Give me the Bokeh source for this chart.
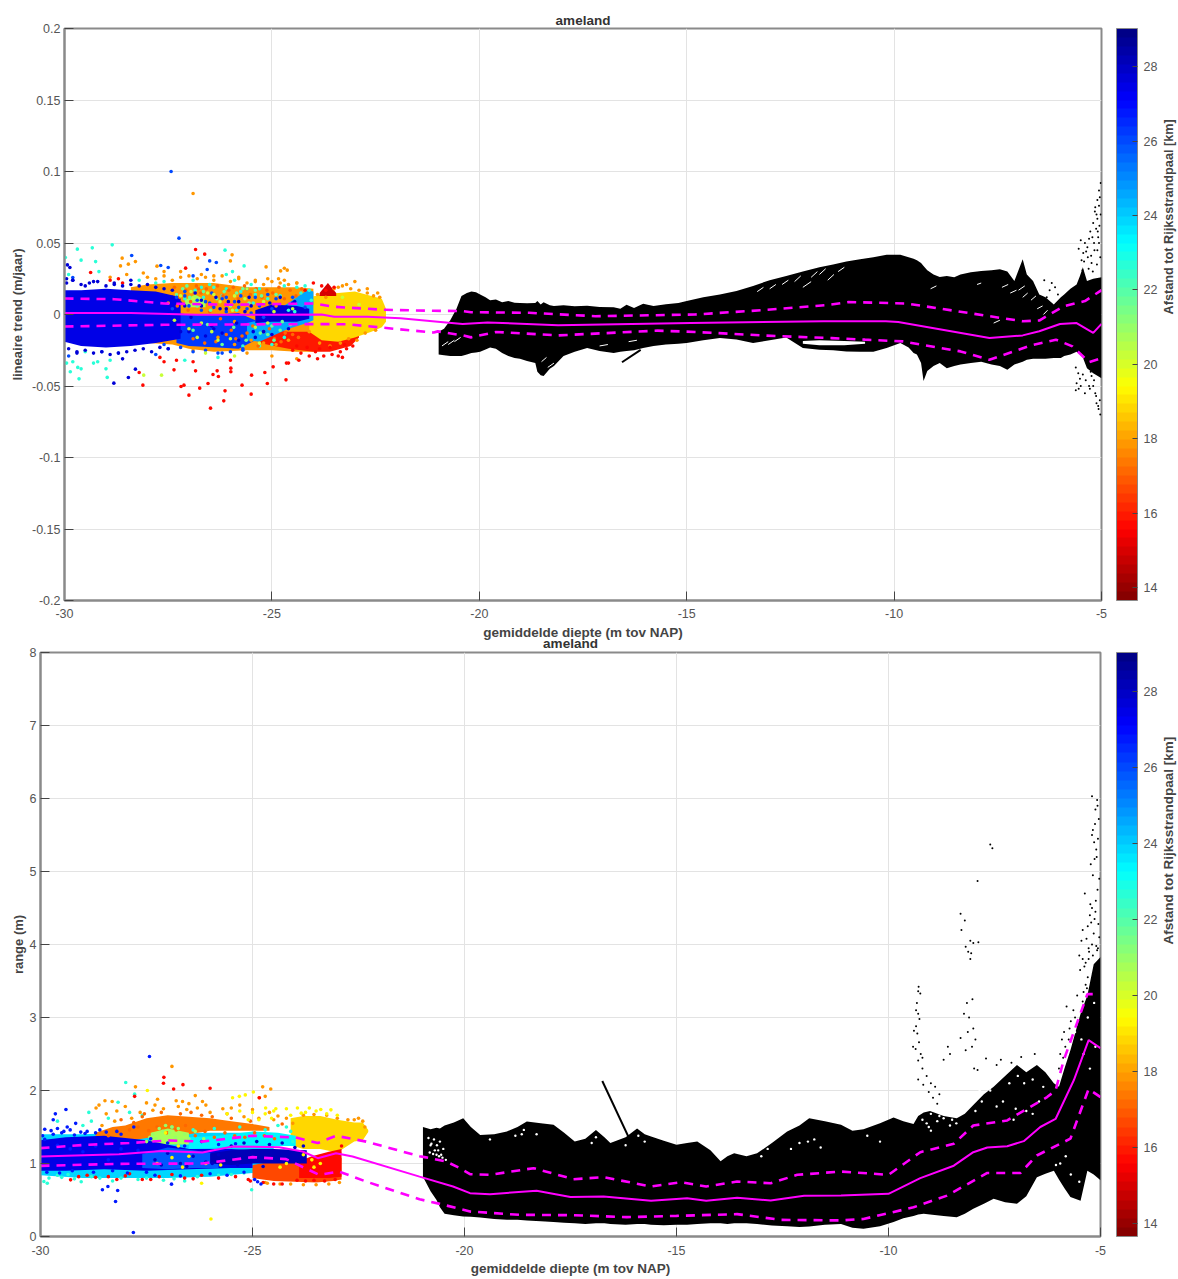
from math import pi
from bokeh.embed import file_html
from bokeh.resources import INLINE
from bokeh.plotting import figure
from bokeh.layouts import column
from bokeh.models import (ColorBar, FixedTicker, LinearAxis, LinearColorMapper, Range1d)

TITLE = "ameland"
XLABEL = "gemiddelde diepte (m tov NAP)"
CBLABEL = "Afstand tot Rijksstrandpaal [km]"
X_TICKS = [-30, -25, -20, -15, -10, -5]
TREND_TICKS = [-0.2, -0.15, -0.1, -0.05, 0, 0.05, 0.1, 0.15, 0.2]
RANGE_TICKS = [0, 1, 2, 3, 4, 5, 6, 7, 8]
KM_TICKS = [14, 16, 18, 20, 22, 24, 26, 28]
KM_LOW, KM_HIGH = 13.65, 29.03

# ---------- top panel: magenta statistics ----------
t_mean_x = [-30, -28.4, -26.8, -25.2, -23.8, -23.5, -22.7, -21.9, -21, -20.4, -19.8, -18.1, -14.9, -11.7, -10.2, -9.9, -7.7, -6.9, -6.5, -6, -5.6, -5.2, -5]
t_mean_y = [.001, .001, -.0002, -.0002, 0, -.0015, -.0015, -.0026, -.005, -.0066, -.0056, -.0075, -.006, -.0047, -.0047, -.0052, -.0164, -.0146, -.0117, -.0066, -.006, -.0129, -.0066]
t_up_x = [-30, -28.8, -27.6, -26, -24, -23.5, -22.3, -21.1, -20.4, -20.2, -18.8, -17.2, -14.8, -13.2, -11.6, -11.1, -9.7, -7.7, -6.9, -6.5, -5.9, -5.4, -5]
t_up_y = [.0112, .0107, .0077, .0068, .0077, .0054, .0033, .0026, .0024, .0016, .0012, -.0012, 0, .003, .0066, .0087, .0077, -.0012, -.0047, -.0042, .0059, .0094, .017]
t_lo_x = [-30, -27.6, -24, -23.2, -21.1, -21, -20.4, -20.2, -19.6, -18.1, -15.7, -14.8, -13.2, -12, -11.5, -10.7, -9.8, -8.4, -7.7, -6.7, -6.1, -5.7, -5.3, -5]
t_lo_y = [-.0084, -.0072, -.0067, -.0068, -.0126, -.0118, -.0146, -.016, -.0122, -.0146, -.0113, -.0122, -.0146, -.016, -.0165, -.0176, -.0188, -.0258, -.0317, -.0216, -.0176, -.0223, -.0333, -.0305]

# ---------- top panel: black cloud envelope and details ----------
t_blk_x = [-20.98, -20.85, -20.7, -20.55, -20.43, -20.3, -20.19, -20.08, -19.98, -19.85, -19.74, -19.6, -19.45, -19.3, -19.15, -19.02, -18.85, -18.65, -18.6, -18.52, -18.45, -18.3, -18.2, -17.97, -17.7, -17.4, -17.1, -16.76, -16.6, -16.45, -16.27, -16.05, -15.8, -15.5, -15.2, -15, -14.6, -14.2, -13.8, -13.4, -13, -12.6, -12.2, -11.8, -11.47, -11.15, -10.82, -10.5, -10.18, -9.85, -9.65, -9.53, -9.45, -9.35, -9.29, -9.2, -9.05, -8.9, -8.73, -8.55, -8.4, -8.15, -7.9, -7.65, -7.45, -7.27, -7.1, -6.9, -6.8, -6.65, -6.5, -6.35, -6.15, -5.98, -5.9, -5.75, -5.6, -5.52, -5.45, -5.35, -5.2, -5]
t_blk_hi = [-.012, -.01, -.004, .004, .013, .015, .016, .0155, .014, .012, .010, .0105, .0085, .0095, .0082, .008, .0078, .008, .0095, .007, .0085, .0065, .006, .0065, .0058, .0062, .0052, .005, .004, .0068, .0046, .0075, .006, .0072, .008, .0094, .012, .014, .0165, .020, .024, .027, .030, .033, .035, .037, .0387, .040, .0418, .0418, .040, .039, .038, .036, .034, .031, .028, .0263, .027, .026, .028, .0295, .0305, .031, .0317, .03, .0235, .0387, .028, .0235, .014, .012, .007, .012, .014, .018, .021, .027, .033, .0235, .025, .026]
t_blk_lo = [-.028, -.0285, -.029, -.029, -.029, -.028, -.027, -.0265, -.026, -.0245, -.023, -.024, -.027, -.029, -.0305, -.031, -.0325, -.034, -.040, -.0425, -.043, -.038, -.036, -.029, -.026, -.0235, -.0255, -.027, -.026, -.0255, -.025, -.0235, -.022, -.021, -.0205, -.020, -.018, -.0165, -.0175, -.020, -.018, -.016, -.0235, -.0247, -.025, -.0258, -.026, -.026, -.0235, -.02, -.023, -.027, -.028, -.034, -.0465, -.0395, -.036, -.034, -.0375, -.036, -.035, -.034, -.033, -.035, -.036, -.0387, -.035, -.033, -.0317, -.031, -.031, -.031, -.0305, -.0305, -.029, -.028, -.026, -.028, -.03, -.0375, -.041, -.0446]
t_tail_x = [-16.56, -16.11]
t_tail_y = [-.0334, -.0247]
t_gap_x = [-12.2, -11.8, -11.2, -10.7]
t_gap_hi = [-.0185, -.018, -.0185, -.019]
t_gap_lo = [-.0205, -.0215, -.0215, -.0205]
t_dots_x = [-5.06, -5.02, -5.1, -5.15, -5.12, -5.2, -5.27, -5.05, -5.3, -5.34, -5.4, -5.1, -5.18, -5.25, -5.44, -5.5, -5.55, -5.48, -5.42, -5.33, -5.22, -5.08, -5.62, -5.56, -5.52, -5.38, -5.28, -5.15, -5.04, -5.08, -5.13, -5.2, -5.03, -5.07, -5.12, -5.18, -5.24, -5.6, -5.55, -5.5, -5.45, -5.62, -5.3, -5.4, -5.26, -6.25, -6.2, -6.12, -6.05, -6.32, -6.38, -5.16, -5.1, -5.06, -5.02, -5.06, -5.13, -5.04, -5.09, -5.17, -5.24, -5.31, -5.37, -5.46, -5.03, -5.11, -5.21]
t_dots_y = [.0868, .092, .08, .075, .07, .064, .058, .062, .053, .047, .05, .045, .05, .041, .043, .052, .046, .038, .037, .04, .054, .054, -.037, -.041, -.045, -.046, -.052, -.055, -.06, -.064, -.057, -.05, -.07, -.066, -.062, -.046, -.043, -.048, -.052, -.05, -.042, -.053, -.05, -.055, -.04, .017, .022, .019, .014, .012, .024, .072, .067, .076, .07, .05, .06, .082, .058, .045, .036, .032, .044, .031, .04, .035, .03]
# white hatch inside the top panel's black cloud
t_wh_x0 = [-13.3, -13.0, -12.7, -12.4, -12.2, -12.0, -11.8, -11.6, -11.35, -9.12, -7.4, -7.2, -7.0, -6.9, -6.55, -6.7, -6.4, -7.6, -8.0, -20.9, -20.75, -20.6, -18.5, -18.35, -17.1, -16.4]
t_wh_y0 = [.016, .018, .021, .023, .019, .026, .028, .024, .03, .018, .019, .015, .017, .012, .004, .01, .0, -.006, .021, -.022, -.021, -.019, -.033, -.037, -.022, -.019]
t_wh_x1 = [-13.15, -12.85, -12.55, -12.25, -12.0, -11.85, -11.65, -11.45, -11.2, -8.98, -7.25, -7.05, -6.85, -6.78, -6.42, -6.58, -6.3, -7.45, -7.9, -20.75, -20.6, -20.45, -18.38, -18.2, -16.9, -16.2]
t_wh_y1 = [.019, .021, .024, .027, .023, .03, .032, .028, .033, .02, .021, .017, .02, .015, .006, .013, .003, -.004, .022, -.019, -.018, -.016, -.03, -.034, -.021, -.018]

# ---------- top panel: coloured cloud, broad areas ----------
t_or_x = [-28.4, -28, -27.4, -27, -26.4, -25.6, -25, -24.4, -24]
t_or_lo = [-.018, -.02, -.021, -.024, -.026, -.025, -.025, -.026, -.026]
t_or_hi = [.019, .021, .022, .022, .022, .019, .019, .019, .018]
t_rd_x = [-25.3, -24.6, -24, -23.6, -23.1, -22.9]
t_rd_lo = [-.02, -.024, -.026, -.026, -.022, -.016]
t_rd_hi = [-.01, -.012, -.012, -.012, -.012, -.012]
t_ye_x = [-24.1, -23.8, -23.4, -23, -22.6, -22.35, -22.25]
t_ye_lo = [-.012, -.018, -.019, -.016, -.012, -.009, -.005]
t_ye_hi = [.012, .014, .015, .016, .013, .011, .004]
t_gr_x = [-27.1, -26.85, -26.6]
t_gr_lo = [.005, .005, .005]
t_gr_hi = [.01, .014, .01]
t_cy_x = [-25.6, -25.3, -24.6, -24.15, -24.0]
t_cy_lo = [-.018, -.019, -.01, -.006, -.004]
t_cy_hi = [-.006, -.004, .008, .017, .016]
t_bl_x = [-27.3, -27, -26.3, -25.8, -25.4]
t_bl_lo = [-.02, -.022, -.023, -.024, -.018]
t_bl_hi = [.001, 0, .0, .001, -.004]
t_dk_x = [-30, -29.6, -29, -28.4, -27.8, -27.2]
t_dk_lo = [-.019, -.022, -.023, -.022, -.02, -.017]
t_dk_hi = [.017, .017, .018, .017, .016, .012]
t_dc_x = [-25.4, -25, -24.4, -24.1]
t_dc_lo = [-.006, -.005, -.005, -.003]
t_dc_hi = [.003, .007, .006, .004]
t_rr_x = [-23.85, -23.65, -23.45]
t_rr_lo = [.013, .013, .013]
t_rr_hi = [.015, .022, .015]

# ---------- top panel: single coloured points, by distance ----------
t_p26_x = [-27.43, -27.24, -26.5, -26.34, -28.38, -27.5, -26.56, -27.68, -26.9, -26.2, -25.7, -25.1, -24.9, -25.4, -26.6, -27.1, -27.8, -28.7, -29.1, -29.9, -29.8, -24.5, -24.2, -25.6, -26.1, -27.5, -27.2, -26.9, -26.6, -26.3, -26, -25.7, -27.4, -27, -26.7, -26.4, -26.1, -25.8, -25.5, -25.2, -27.6, -27.3, -26.8, -26.5, -26.2, -25.9, -25.6, -25.3, -25, -27.1, -26.45, -25.75]
t_p26_y = [.100, .0534, .0375, .0364, .0413, .0329, .0315, .0343, .027, -.027, -.025, .014, .011, .012, .009, .013, -.028, -.027, -.026, -.029, .0258, .012, .005, .018, .012, -.024, -.023, -.026, -.025, -.027, -.026, -.024, .004, .006, .003, .005, .002, .005, .001, -.002, -.021, .012, .01, .008, .011, .009, .004, .006, .004, .016, .015, .013]
t_p18_x = [-26.9, -26.79, -25.96, -26.0, -28.61, -28.29, -28.65, -28.46, -27.77, -24.7, -24.63, -24.79, -25.14, -24.84, -28.9, -28.5, -28.1, -27.6, -27.2, -26.7, -26.4, -25.8, -25.4, -25.1, -24.7, -24.4, -25.9, -26.3, -27.5, -25.0, -24.4, -25.6, -26.9, -22.7, -22.45, -23.2, -23.4, -23.0, -28, -27.8, -27.6, -27.4, -27.2, -27, -26.8, -26.6, -26.4, -26.2, -26, -25.8, -25.6, -25.4, -25.2, -25, -24.8, -24.6, -24.4, -27.3, -27.1, -26.7, -26.3, -25.9, -25.5, -25.1, -24.7, -26.5, -26.1, -25.7, -25.3, -24.9, -25.5, -25.2, -24.9, -24.6, -25.9, -26.3, -23.9, -23.7, -23.5, -23.3, -23.1, -22.9, -22.7, -22.55, -22.4, -24.1, -23.85, -23.6, -23.35, -23.15, -22.95, -22.75, -22.5]
t_p18_y = [.0846, .0394, .0417, .0375, .0394, .037, .034, .0352, .0338, .0324, .031, .0305, .0333, .025, .026, .028, .029, .03, .03, .028, .027, .026, .023, .025, .024, .022, -.005, .014, .008, -.029, -.031, -.027, -.025, .018, .015, .021, .019, .023, .026, .025, .027, .024, .026, .027, .025, .026, .024, .027, .023, .025, .022, .024, .021, .023, .022, .021, .022, .016, .018, .014, .017, .015, .016, .014, .015, .01, .008, .009, .007, .006, -.018, -.02, -.021, -.018, -.021, -.016, .014, .012, .018, .02, .018, .017, .015, .013, .012, -.012, -.02, -.022, -.02, -.017, -.018, -.013, -.011]
t_p16_x = [-26.84, -26.62, -27.08, -26.48, -26.16, -26.13, -27.0, -26.74, -27.12, -27.19, -26.54, -25.72, -25.5, -25.11, -24.66, -28.11, -28.2, -27.36, -26.84, -26.32, -25.99, -25.99, -26.29, -26.42, -25.49, -25.17, -24.65, -24.35, -24.97, -29.37, -28.9, -28.7, -28.6, -24.0, -24.2, -23.8, -23.4, -23.3, -23.9, -27.6, -27.3, -27.7, -26.9, -26.0, -24.6, -24.5, -24.3, -24.1, -23.95, -23.75, -23.55, -23.35, -23.2, -23.05, -24.4, -24.15, -23.85, -23.6, -23.25, -23.7, -23.5]
t_p16_y = [.0455, .0422, .0324, -.0655, -.0604, -.0534, -.0564, -.0515, -.0494, -.0503, -.0483, -.0494, -.0557, -.0483, -.0457, -.0494, -.0406, -.0387, -.0394, -.0394, -.0375, -.04, -.0434, -.042, -.0424, -.0406, -.034, -.032, -.0366, .0294, .024, .025, .022, .022, .017, .02, -.029, -.03, -.031, -.033, -.032, -.03, -.033, -.032, -.034, -.025, -.027, -.029, -.026, -.029, -.028, -.026, -.024, -.022, -.022, -.023, -.024, -.023, -.021, .017, .019]
t_p22_x = [-28.85, -29.33, -29.69, -29.98, -26.13, -29.6, -29.25, -29.17, -25.67, -25.95, -26.1, -29.65, -29.86, -28.97, -29.8, -29.68, -29.6, -29.3, -29.2, -29.0, -28.9, -29.5, -26.5, -26.7, -26.9, -27.6, -28.2, -27.8, -25.3, -24.7, -24.4, -24.2, -25.9, -25.5, -26.3, -27.1, -29.95, -29.9, -26.85, -26.4, -26.1, -25.75, -25.4, -27.1, -26.65, -26.2, -25.85, -25.45, -25.1, -24.8, -24.3, -24.1, -24.05, -24.6, -24.45, -25.7, -25.3, -25.0, -24.7]
t_p22_y = [.0487, .0466, .0457, .0399, .045, .038, .037, .03, .034, .03, .028, -.045, -.04, -.044, -.033, -.037, -.038, -.034, -.033, -.038, -.032, -.026, .021, .019, .024, .023, .024, .022, .018, .02, .019, .02, .024, .021, -.03, -.032, -.034, .028, .017, .019, .018, .016, .014, .011, .012, .013, .003, .008, .011, .013, .015, .017, .01, .003, .002, -.022, -.022, -.021, -.016]
t_p28_x = [-28.81, -28.46, -28.29, -29.93, -29.87, -29.95, -29.8, -29.7, -28.6, -28.4, -28.8, -29.3, -29.5, -25.0, -24.8, -24.5, -25.5, -25.8, -26.1, -26.4, -26.7, -25.2, -24.3, -27.1, -27.4, -27.2, -29.95, -29.8, -29.6, -29.4, -29.2, -29, -28.8, -28.6, -28.4, -28.2, -28, -27.8, -27.6, -27.4, -29.9, -29.7, -29.5, -29.3, -29.1, -28.9, -28.7, -28.5, -28.3, -28.1, -27.9, -27.7, -27.5, -27.2, -26.95, -26.7, -26.45, -26.25, -26.05, -25.85, -25.65, -25.45, -25.25, -25.05, -24.85, -24.65, -24.45, -24.25, -27, -26.6, -26.2, -25.8, -25.4, -25, -24.6, -26.85, -26.35, -25.55]
t_p28_y = [-.048, -.044, -.0382, .0347, .0329, .025, .024, -.027, -.031, .024, .022, .023, .02, .0, .012, .008, .006, .009, .004, -.01, .01, -.012, -.002, .006, .012, -.012, .022, .024, .021, .022, .023, .02, .021, .02, .021, .02, .021, .019, .018, .017, -.024, -.026, -.025, -.027, -.026, -.028, -.027, -.026, -.025, -.024, -.026, -.023, -.024, .008, -.002, .006, -.008, .004, .009, -.006, .002, -.012, .001, .008, -.001, .005, .009, .001, -.012, -.015, -.013, -.018, -.016, -.014, -.01, .015, .012, .012]
t_p20_x = [-28.09, -27.66, -26.7, -26.45, -26.8, -26.3, -26.6, -25.9, -26.0, -25.3, -25.6, -27.0, -27.35, -25.9, -24.95, -25.1, -24.5, -25.4, -26.9, -26.4, -27.2, -26.75, -26.95, -26.55, -26.25, -25.95, -25.65, -25.2, -22.9, -23.3]
t_p20_y = [-.0424, -.0424, -.006, -.012, -.016, -.018, -.027, -.029, -.017, -.02, .018, -.01, -.004, .013, .002, -.006, .004, -.009, .011, .014, .013, .007, .016, .015, .009, .003, .011, .009, .007, .012]
t_x17_x = [-27.35, -27.22, -27.08, -26.96, -26.82, -26.71, -26.58, -26.44, -26.31, -26.18, -26.04, -25.93, -25.81, -25.66, -25.52, -25.38, -25.24, -25.12, -24.98, -24.83, -24.7, -24.56, -24.42, -24.28, -27.28, -27.02, -26.77, -26.5, -26.24, -25.98, -25.72, -25.46, -25.2, -24.94, -24.68, -24.36, -26.9, -26.62, -26.35, -26.1, -25.87, -25.6, -25.33, -25.06, -24.78, -24.5]
t_x17_y = [.019, .012, .017, .009, .02, .015, .018, .006, .02, .013, .017, .019, .011, .02, .014, .018, .012, .017, .015, .019, .011, .017, .013, .018, .006, .003, .018, .002, -.003, -.011, -.015, -.008, -.012, -.017, -.013, -.016, -.017, -.02, -.019, -.014, -.017, -.013, -.022, -.01, -.019, -.014]
t_x21_x = [-27.3, -27.15, -26.98, -26.8, -26.65, -26.48, -26.33, -26.15, -26, -25.85, -25.7, -25.55, -25.4, -25.25, -25.1, -24.95, -24.8, -26.9, -26.55, -26.2, -25.92, -25.62, -25.28, -24.9, -25.0, -24.75, -24.55, -27.05]
t_x21_y = [.014, .018, .012, .006, .016, .003, .011, .016, .006, .015, .018, .008, .017, .013, -.014, -.018, -.011, -.011, -.007, -.021, -.009, -.018, -.013, .014, -.008, -.005, -.007, .02]

# ---------- bottom panel: magenta statistics ----------
b_mean_x = [-30, -28.15, -27.13, -26.18, -25.47, -24.37, -23.82, -23.46, -23.03, -22.64, -21.06, -20.27, -19.87, -19.4, -18.3, -17.5, -16.72, -15.6, -14.75, -14.3, -13.57, -12.78, -11.99, -11.12, -10, -9.25, -8.46, -8, -7.67, -7.2, -6.81, -6.42, -6.06, -5.63, -5.28, -5]
b_mean_y = [1.096, 1.128, 1.17, 1.15, 1.233, 1.224, 1.164, 1.073, 1.14, 1.096, .82, .685, .594, .58, .626, .54, .548, .489, .525, .489, .53, .493, .557, .56, .584, .8, .97, 1.155, 1.22, 1.237, 1.306, 1.5, 1.61, 2.14, 2.69, 2.58]
b_up_x = [-30, -28.94, -27.91, -26.97, -26.18, -25, -23.98, -23.46, -23.03, -22.32, -21.06, -20.94, -20.43, -20.11, -19.87, -19.4, -18.37, -17.43, -16.72, -15.6, -14.9, -14.3, -13.57, -12.78, -12.15, -11.12, -10, -9.25, -8.46, -8, -7.2, -6.26, -6.06, -5.87, -5.31, -5.12]
b_up_y = [1.21, 1.256, 1.28, 1.315, 1.3, 1.38, 1.356, 1.28, 1.38, 1.3, 1.1, 1.087, 1.027, .936, .854, .845, .936, .785, .813, .685, .744, .685, .753, .73, .845, .89, .845, 1.155, 1.27, 1.52, 1.59, 1.91, 2, 2.41, 3.32, 3.32]
b_lo_x = [-30, -28.15, -26.18, -25, -24.21, -23.43, -22.96, -22.32, -21.06, -20.58, -19.87, -18.7, -17.43, -16.17, -15, -13.57, -12.54, -11.12, -10.59, -9.41, -8.62, -7.67, -6.89, -6.5, -5.71, -5.28, -5]
b_lo_y = [.968, .995, 1.0, 1.087, 1.06, .845, .89, .753, .51, .447, .342, .297, .292, .265, .283, .306, .228, .22, .24, .4, .56, .87, .87, 1.11, 1.34, 2.02, 1.91]

# ---------- bottom panel: black cloud envelope and details ----------
b_blk_x = [-20.98, -20.8, -20.66, -20.58, -20.47, -20.25, -20.03, -19.85, -19.63, -19.3, -19.0, -18.75, -18.53, -18.2, -17.9, -17.65, -17.4, -17.15, -16.9, -16.7, -16.56, -16.2, -15.93, -15.75, -15.6, -15.3, -15, -14.75, -14.51, -14.2, -13.96, -13.8, -13.64, -13.35, -13.1, -12.75, -12.39, -12.1, -11.87, -11.5, -11.12, -10.85, -10.59, -10.2, -9.88, -9.65, -9.41, -9.3, -9.17, -9.02, -8.7, -8.39, -8.2, -8, -7.75, -7.52, -7.25, -6.97, -6.75, -6.5, -6.3, -6.1, -5.98, -5.85, -5.71, -5.47, -5.31, -5.16, -5]
b_blk_hi = [1.5, 1.47, 1.49, 1.48, 1.52, 1.56, 1.62, 1.5, 1.39, 1.4, 1.44, 1.5, 1.575, 1.55, 1.53, 1.42, 1.3, 1.34, 1.46, 1.36, 1.28, 1.36, 1.48, 1.4, 1.37, 1.31, 1.256, 1.28, 1.3, 1.18, 1.03, 1.1, 1.14, 1.1, 1.14, 1.28, 1.44, 1.52, 1.62, 1.58, 1.53, 1.45, 1.47, 1.55, 1.63, 1.58, 1.54, 1.65, 1.7, 1.72, 1.65, 1.62, 1.68, 1.8, 1.95, 2.05, 2.2, 2.35, 2.25, 2.35, 2.25, 2.1, 2.05, 2.3, 2.55, 3.05, 3.3, 3.73, 3.83]
b_blk_lo = [.82, .62, .5, .4, .31, .29, .274, .27, .26, .24, .228, .23, .22, .21, .2, .19, .18, .17, .18, .18, .17, .16, .17, .17, .16, .155, .16, .16, .17, .18, .18, .17, .18, .18, .17, .15, .14, .13, .137, .16, .17, .12, .105, .14, .2, .25, .28, .3, .31, .3, .28, .265, .31, .38, .45, .516, .47, .447, .55, .81, .86, .9, .78, .66, .54, .49, .9, .85, .77]
b_sp_x = [-16.75, -16.0]
b_sp_y = [2.13, 1.2]
b_dots_x = [-9.29, -9.3, -9.25, -9.33, -9.35, -9.3, -9.27, -9.35, -9.4, -9.32, -9.28, -9.42, -9.36, -9.24, -9.2, -9.3, -7.6, -7.55, -7.9, -8.3, -8.2, -8.28, -8.18, -8.07, -8.0, -7.88, -8.12, -8.05, -8.07, -8.15, -8.02, -8.22, -8.1, -8.13, -8.0, -8.3, -7.95, -8.03, -8.18, -8.55, -8.7, -7.7, -7.9, -5.2, -5.08, -5.07, -5.12, -5.04, -5.18, -5.13, -5.2, -5.15, -5.1, -5.06, -5.09, -5.14, -5.23, -5.18, -5.07, -5.03, -5.11, -5.2, -5.25, -5.37, -5.42, -5.3, -5.33, -5.45, -5.5, -5.48, -5.55, -5.42, -5.35, -5.6, -5.64, -5.7, -5.73, -5.8, -5.75, -5.83, -5.86, -5.88, -5.91, -5.95, -5.98, -5.42, -5.38, -5.16, -5.03, -5.27, -7.35, -7.45, -7.1, -6.87, -6.55, -8.6, -7.98, -5.22, -5.14, -5.05, -5.28, -5.2, -5.1, -5.35, -5.28, -5.18, -5.08, -5.24, -5.12, -5.3, -5.18, -5.04, -5.4, -5.32, -5.22, -5.12, -5.36, -5.26, -5.16, -5.06, -9.2, -9.1, -9.0, -8.9, -8.8, -9.3, -9.18, -9.05, -8.95, -8.85]
b_dots_y = [3.42, 3.36, 3.33, 3.2, 3.1, 3.05, 2.98, 2.88, 2.82, 2.78, 2.66, 2.6, 2.57, 2.5, 2.45, 2.41, 5.37, 5.32, 4.87, 4.42, 4.33, 4.2, 3.97, 4.05, 4.02, 4.03, 3.9, 3.88, 3.8, 3.2, 3.25, 3.05, 3.0, 2.8, 2.85, 2.72, 2.7, 2.6, 2.55, 2.5, 2.42, 2.44, 2.28, 6.03, 5.98, 5.9, 5.85, 5.72, 5.57, 5.65, 5.5, 5.4, 5.3, 5.45, 5.2, 5.17, 5.1, 4.95, 4.75, 4.9, 4.6, 4.5, 4.4, 4.7, 4.2, 4.25, 4.08, 4.05, 3.85, 3.65, 3.3, 3.22, 3.45, 3.0, 3.1, 2.95, 2.85, 3.15, 2.7, 2.6, 2.8, 2.45, 2.7, 2.5, 2.3, 3.8, 3.7, 4.15, 4.1, 3.9, 2.42, 2.35, 2.38, 2.46, 2.5, 2.6, 2.3, 4.3, 4.35, 4.28, 3.95, 4.0, 3.98, 3.75, 3.8, 3.85, 3.92, 4.55, 4.45, 3.55, 3.6, 3.7, 3.35, 3.4, 3.45, 3.5, 3.15, 3.2, 3.25, 3.95, 2.3, 2.2, 2.1, 2.05, 1.95, 2.15, 2.08, 1.98, 1.9, 1.82]
b_holes_x = [-20.85, -20.78, -20.72, -20.65, -20.58, -20.5, -20.82, -20.74, -20.66, -20.6, -20.52, -20.44, -20.8, -20.7, -20.62, -20.55, -18.65, -18.6, -12.3, -12.1, -11.9, -11.75, -11.6, -16.9, -17, -10.5, -10.2, -9.0, -8.8, -8.5, -7.3, -7.0, -6.6, -9.2, -9.1, -9.0, -8.85, -8.7, -8.55, -9.25, -9.15, -8.95, -8.8, -8.65, -9.05, -8.4, -7.95, -7.8, -7.6, -7.45, -7.85, -7.7, -7.55, -7.15, -6.95, -6.8, -6.6, -6.35, -7.05, -6.75, -6.45, -5.95, -5.6, -5.45, -5.3, -5.15, -5.4, -5.25, -5.12, -5.5, -5.82, -5.7, -6.05, -19.4, -18.8, -18.3, -15.9, -15.75, -16.2, -13.0, -12.85]
b_holes_y = [1.35, 1.27, 1.33, 1.25, 1.3, 1.2, 1.15, 1.13, 1.12, 1.1, 1.08, 1.05, 1.25, 1.18, 1.18, 1.12, 1.4, 1.46, 1.2, 1.28, 1.3, 1.33, 1.22, 1.36, 1.28, 1.38, 1.3, 1.45, 1.65, 1.6, 1.85, 1.75, 1.68, 1.6, 1.55, 1.68, 1.58, 1.62, 1.52, 1.7, 1.78, 1.8, 1.72, 1.68, 1.5, 1.55, 1.72, 1.85, 2.0, 1.78, 2.0, 2.1, 2.2, 2.1, 2.2, 2.1, 2.15, 2.05, 1.6, 1.72, 1.85, 1.0, 2.8, 2.7, 3.0, 3.2, 2.5, 2.3, 2.6, 0.75, 1.1, 0.85, .98, 1.33, 1.38, 1.4, 1.38, 1.3, 1.25, 1.1, 1.2]

# ---------- bottom panel: coloured cloud, broad areas ----------
b_cy_x = [-30, -29, -28, -27, -26, -25, -24.5]
b_cy_lo = [.84, .8, .8, .8, .82, .87, .92]
b_cy_hi = [1.4, 1.4, 1.42, 1.42, 1.42, 1.42, 1.4]
b_or_x = [-28.7, -28.3, -28, -27.5, -27, -26.5, -26, -25.5, -25, -24.6]
b_or_lo = [1.3, 1.3, 1.3, 1.35, 1.4, 1.4, 1.45, 1.45, 1.45, 1.45]
b_or_hi = [1.42, 1.5, 1.52, 1.62, 1.66, 1.64, 1.62, 1.58, 1.54, 1.5]
b_ye_x = [-24.1, -23.8, -23.4, -23, -22.6, -22.4, -22.27]
b_ye_lo = [1.25, 1.2, 1.2, 1.15, 1.3, 1.32, 1.43]
b_ye_hi = [1.62, 1.65, 1.65, 1.6, 1.56, 1.56, 1.46]
b_gr_x = [-27.4, -27, -26.5]
b_gr_lo = [1.26, 1.26, 1.26]
b_gr_hi = [1.42, 1.48, 1.42]
b_c2_x = [-26.5, -25.8, -25, -24.4, -23.98]
b_c2_lo = [1.2, 1.22, 1.22, 1.24, 1.24]
b_c2_hi = [1.36, 1.38, 1.44, 1.42, 1.38]
b_rd_x = [-25, -24.5, -24, -23.5, -23.1, -22.9]
b_rd_lo = [.8, .76, .75, .74, .76, .78]
b_rd_hi = [.98, 1.03, 1.06, 1.08, 1.08, 1.08]
b_rr_x = [-23.9, -23.6, -23.2, -22.9]
b_rr_lo = [.8, .8, .8, .82]
b_rr_hi = [1.03, 1.1, 1.16, 1.2]
b_bl_x = [-30, -29.4, -28.5, -27.5, -26.5, -25.5, -25]
b_bl_lo = [.9, .9, .92, .9, .92, .94, .94]
b_bl_hi = [1.32, 1.36, 1.38, 1.32, 1.2, 1.2, 1.18]
b_b2_x = [-27.6, -27, -26.4, -25.8]
b_b2_lo = [.94, .92, .94, .94]
b_b2_hi = [1.13, 1.22, 1.18, 1.13]
b_dk_x = [-26, -25.5, -25, -24.5, -23.72]
b_dk_lo = [1.0, .98, 1.0, 1.0, 1.0]
b_dk_hi = [1.14, 1.18, 1.2, 1.2, 1.18]

# ---------- bottom panel: single coloured points, by distance ----------
b_p26_x = [-27.43, -27.81, -26.91, -28.54, -28.41, -28.18, -28.23, -29.65, -29.4, -29.7, -29.37, -29.17, -29.9, -29.75, -29.6, -29.5, -29.3, -29.05, -28.9, -24.88, -24.8, -24.95, -28.6, -28.2, -27.8, -25.2, -25.6, -26, -26.7, -27.3, -29.95, -29.7, -29.45, -29.2, -28.95, -28.7, -28.45, -28.1, -29.85, -29.55, -29.25, -28.75, -28.3, -27.95, -27.5, -29.9, -29.6, -29.3, -29, -28.7, -28.4, -28.1, -27.7, -27.4, -27, -26.6, -26.2, -25.8, -25.4]
b_p26_y = [2.466, .055, .717, .64, .685, .63, .48, 1.68, 1.74, 1.6, 1.5, 1.55, 1.47, 1.45, 1.48, 1.42, 1.46, 1.43, 1.44, .75, .72, .78, 1.46, 1.44, 1.5, .88, .84, .86, .83, .84, 1.38, 1.4, 1.44, 1.39, 1.41, 1.42, 1.43, 1.4, .88, .87, .9, .88, .9, .87, .88, 1.33, 1.25, 1.2, 1.16, 1.24, 1.05, 1.2, 1.18, 1.34, 1.28, 1.24, 1.3, 1.26, 1.27]
b_p18_x = [-26.9, -27.76, -28.48, -28.31, -28.62, -28.69, -24.76, -24.57, -24.65, -24.7, -24.84, -25.3, -25.5, -26.35, -26.18, -26.65, -26.8, -27.24, -27.5, -28, -28.2, -28.45, -27.3, -26.5, -26.1, -25.7, -25.0, -24.6, -24.4, -28.55, -28.25, -27.85, -27.65, -27.35, -27.1, -26.75, -26.55, -26.3, -26, -25.6, -25.2, -24.85, -24.5, -24.2, -22.6, -22.5, -22.4, -22.35, -24.05, -23.8, -23.55, -23.25, -23.0, -22.75, -24.7, -24.35, -24.1, -23.8, -23.5, -23.2, -22.95]
b_p18_y = [2.33, 2.05, 1.86, 1.85, 1.8, 1.76, 2.05, 2.02, .73, 1.92, 1.9, 1.8, 1.76, 1.93, 1.85, 1.85, 1.86, 1.88, 1.83, 1.78, 1.72, 1.68, 1.8, 1.82, 1.8, 1.75, 1.74, 1.7, 1.65, 1.52, 1.58, 1.62, 1.7, 1.73, 1.75, 1.78, 1.74, 1.76, 1.7, 1.68, 1.64, 1.62, 1.6, 1.62, 1.6, 1.62, 1.58, 1.5, 1.55, 1.66, 1.67, 1.66, 1.62, 1.6, .74, .72, .72, .71, .71, .72, .74]
b_p16_x = [-27.09, -27.1, -26.64, -26.86, -26.0, -27.78, -29.29, -28.9, -28.4, -28.2, -27.9, -27.6, -27.2, -26.6, -26.2, -25.8, -25.4, -24.84, -28.7, -28.0, -27.4, -26.9, -26.4, -29.1, -25.1, -23.95, -23.75, -23.55, -23.3, -23.05, -22.9, -22.95, -24.3, -24.5, -24.75, -25.05]
b_p16_y = [2.18, 2.1, 2.08, 2.02, 2.03, 1.92, .776, .84, .82, .78, .86, .78, .82, .8, .84, .8, .82, 1.9, .81, .83, .78, .85, .79, .82, .78, .77, .76, .77, .76, .78, 1.24, 1.15, .72, .72, .74, .76]
b_p22_x = [-27.99, -27.78, -29.6, -28.17, -28.86, -29.92, -29.84, -29.04, -29.8, -29.5, -29.2, -28.6, -28.3, -27.7, -27.1, -26.6, -25.02, -24.4, -24.2, -28.8, -29, -28.4, -27.9, -27.6, -29.6, -29.35, -28.8, -28.1, -27.5, -26.85, -26.3, -25.8, -25.5, -25.2, -24.7, -24.1, -24.05, -26.9, -26.4, -25.9, -25.3]
b_p22_y = [2.11, 1.95, 1.58, 1.84, 1.7, .753, .73, .75, .8, .81, .79, .8, .76, .78, .77, .76, .64, 1.52, 1.5, 1.58, 1.52, 1.62, 1.7, 1.66, .84, .85, .82, .8, .8, .79, .82, .84, .85, .87, 1.46, 1.44, 1.3, 1.5, 1.46, 1.48, 1.5]
b_p19_x = [-27.48, -24.98, -25.17, -25.31, -25.47, -24.69, -24.45, -24.2, -23.94, -23.66, -23.39, -23.15, -25.98, -26.2, -24.5, -24.7, -25, -25.3, -25.6, -27.25, -26.9, -26.65, -24.2, -24.35, -23.6, -23.8, -23.55, -23.4, -24.55, -24.85, -25.1, -23.75, -23.5, -23.25, -23.0, -24.1, -23.85, -27.05, -26.75, -26.5, -26.1, -25.75]
b_p19_y = [2.0, 1.98, 1.94, 1.92, 1.9, 1.76, 1.75, 1.75, 1.76, 1.76, 1.74, 1.735, .24, .73, 1.72, 1.68, 1.7, 1.72, 1.68, 1.0, 1.08, .95, 1.0, .95, 1.05, 1.12, .95, 1.0, 1.62, 1.6, 1.6, 1.7, 1.72, 1.68, 1.66, 1.66, 1.69, 1.42, 1.24, 1.1, 1.0, .98]
b_x17_x = [-28.4, -28.15, -27.9, -27.7, -27.45, -27.25, -27.02, -26.8, -26.58, -26.35, -26.12, -25.9, -25.65, -25.42, -25.18, -24.95, -24.72, -24.48, -27.55, -27.15, -26.7, -26.45, -26.2, -25.95, -25.5, -25.05, -24.3, -28.1, -27.8, -27.6]
b_x17_y = [1.38, 1.42, 1.46, 1.5, 1.45, 1.5, 1.42, 1.46, 1.52, 1.38, 1.44, 1.36, 1.42, 1.38, 1.36, 1.42, 1.38, 1.34, 1.68, 1.7, 1.68, 1.7, 1.66, 1.64, 1.62, 1.58, 1.54, 1.6, 1.56, 1.64]
b_x21_x = [-27.5, -27.35, -27.2, -27.05, -26.9, -26.75, -26.6, -27.42, -27.28, -27.12, -26.95, -26.82, -26.66, -26.5, -26.35, -26.15]
b_x21_y = [1.3, 1.4, 1.48, 1.52, 1.5, 1.48, 1.4, 1.36, 1.34, 1.44, 1.42, 1.36, 1.32, 1.34, 1.44, 1.34]
b_x28_x = [-27.3, -27, -26.7, -26.4, -26.1, -25.8, -25.5, -25.2, -24.9, -24.6, -24.3, -24, -23.8, -27.15, -26.55, -25.95, -25.35, -24.75]
b_x28_y = [1.05, 1.14, 1.0, 1.1, 1.02, 1.12, 1.24, 1.28, 1.3, 1.26, 1.28, 1.22, 1.24, .98, .96, 1.0, .98, .96]

base = []
for i in range(64):
    v = (i + 0.5) / 64
    r = min(max(min(4 * v - 1.5, -4 * v + 4.5), 0), 1)
    g = min(max(min(4 * v - 0.5, -4 * v + 3.5), 0), 1)
    b = min(max(min(4 * v + 0.5, -4 * v + 2.5), 0), 1)
    base.append("#%02x%02x%02x" % (round(r * 255), round(g * 255), round(b * 255)))
jet_r = base[::-1]


def km_color(km):
    return jet_r[min(63, max(0, int((km - KM_LOW) / (KM_HIGH - KM_LOW) * 64)))]


FONT = "Liberation Sans"
GRAY = "#8a8a8a"
TXT = "#555555"


def panel(y_range, y_ticks, ylabel, left, frame_w, top, frame_h, bottom, cb_gap, ylab_standoff, tick_standoff, lab_standoff, side_standoff, side_size, title_standoff, side_bounds):
    p = figure(output_backend="svg", toolbar_location=None,
               x_range=Range1d(-30, -5), y_range=Range1d(*y_range),
               frame_width=frame_w, frame_height=frame_h,
               min_border_left=left, min_border_top=top, min_border_bottom=bottom,
               min_border_right=1178 - left - frame_w,
               title=TITLE, border_fill_color=None)
    p.frame_align = False
    p.title.align = "center"
    p.title.text_font = FONT
    p.title.text_font_size = "13.5px"
    p.title.text_font_style = "bold"
    p.title.text_color = "#333333"
    p.title.standoff = title_standoff
    p.outline_line_color = GRAY
    p.outline_line_width = 2
    p.grid.grid_line_color = "#e3e3e3"
    p.xgrid.ticker = X_TICKS
    p.ygrid.ticker = y_ticks
    for ax, lab_size in ((p.xaxis[0], "13.5px"), (p.yaxis[0], "13px")):
        ax.axis_line_color = GRAY
        ax.axis_line_width = 2
        ax.major_tick_line_color = "#444444"
        ax.major_tick_in = 9
        ax.major_tick_out = 0
        ax.minor_tick_line_color = None
        ax.major_label_text_font = FONT
        ax.major_label_text_font_size = "12.5px"
        ax.major_label_text_color = TXT
        ax.axis_label_text_font = FONT
        ax.axis_label_text_font_size = lab_size
        ax.axis_label_text_font_style = "bold"
        ax.axis_label_text_color = "#444444"
    p.xaxis[0].ticker = FixedTicker(ticks=X_TICKS)
    p.yaxis[0].ticker = FixedTicker(ticks=y_ticks)
    p.xaxis[0].axis_label = XLABEL
    p.xaxis[0].major_label_overrides = {t: str(t) for t in X_TICKS}
    p.yaxis[0].axis_label = ylabel
    p.yaxis[0].major_label_overrides = {t: ("0" if t == 0 else ("%g" % t)) for t in y_ticks}
    p.xaxis[0].major_label_standoff = tick_standoff
    p.yaxis[0].major_label_standoff = 4
    p.xaxis[0].axis_label_standoff = lab_standoff
    p.yaxis[0].axis_label_standoff = ylab_standoff

    mapper = LinearColorMapper(palette=jet_r, low=KM_LOW, high=KM_HIGH)
    cb = ColorBar(color_mapper=mapper, ticker=FixedTicker(ticks=KM_TICKS), width=21,
                  location=(cb_gap, 0), padding=0, margin=0, major_label_text_font=FONT,
                  major_label_text_font_size="12.5px", major_label_text_color=TXT,
                  major_tick_line_color="#444444", major_tick_in=5, major_tick_out=0,
                  minor_tick_line_color=None, bar_line_color=GRAY, bar_line_width=1,
                  label_standoff=6, border_line_color=None, background_fill_color=None)
    p.add_layout(cb, "right")
    side = LinearAxis(ticker=FixedTicker(ticks=[]), axis_line_color=None,
                      major_tick_line_color=None, minor_tick_line_color=None,
                      major_tick_in=0, major_tick_out=0, axis_label=CBLABEL,
                      bounds=side_bounds,
                      axis_label_standoff=side_standoff, axis_label_text_font=FONT,
                      axis_label_text_font_size=side_size, axis_label_text_font_style="bold",
                      axis_label_text_color="#444444")
    side.axis_label_orientation = pi / 2
    p.add_layout(side, "right")
    return p


def band(p, x, lo, hi, km):
    p.varea(x=x, y1=lo, y2=hi, fill_color=km_color(km))


def pts(p, x, y, km, size=3.6):
    p.scatter(x=x, y=y, size=size, color=km_color(km), line_color=None)


def stats(p, mx, my, ux, uy, lx, ly):
    p.line(mx, my, line_color="#ff00ff", line_width=2)
    p.line(ux, uy, line_color="#ff00ff", line_width=2.6, line_dash="9 7")
    p.line(lx, ly, line_color="#ff00ff", line_width=2.6, line_dash="9 7")


# ---- top
p1 = panel((-0.2, 0.2), TREND_TICKS, "lineaire trend (m/jaar)", 64, 1037, 28, 572, 40, 15, 4, 8, 4, 8, "12.7px", 1, (-0.2, 0.056))
band(p1, t_or_x, t_or_lo, t_or_hi, 17.8)
band(p1, t_rd_x, t_rd_lo, t_rd_hi, 16)
band(p1, t_ye_x, t_ye_lo, t_ye_hi, 18.9)
band(p1, t_gr_x, t_gr_lo, t_gr_hi, 20.8)
band(p1, t_bl_x, t_bl_lo, t_bl_hi, 26.3)
band(p1, t_cy_x, t_cy_lo, t_cy_hi, 24.6)
band(p1, t_dc_x, t_dc_lo, t_dc_hi, 27.6)
band(p1, t_dk_x, t_dk_lo, t_dk_hi, 27.5)
band(p1, t_rr_x, t_rr_lo, t_rr_hi, 15)
pts(p1, t_p22_x, t_p22_y, 22.6)
pts(p1, t_p18_x, t_p18_y, 17.8)
pts(p1, t_x17_x, t_x17_y, 17.2)
pts(p1, t_x21_x, t_x21_y, 21.7)
pts(p1, t_p16_x, t_p16_y, 15.8)
pts(p1, t_p26_x, t_p26_y, 26)
pts(p1, t_p28_x, t_p28_y, 27.6)
pts(p1, t_p20_x, t_p20_y, 20.3)
p1.varea(x=t_blk_x, y1=t_blk_lo, y2=t_blk_hi, fill_color="black")
p1.varea(x=t_gap_x, y1=t_gap_lo, y2=t_gap_hi, fill_color="white")
p1.segment(x0=t_wh_x0, y0=t_wh_y0, x1=t_wh_x1, y1=t_wh_y1, line_color="white", line_width=1)
p1.line(t_tail_x, t_tail_y, line_color="black", line_width=2)
p1.scatter(x=t_dots_x, y=t_dots_y, size=2, color="black", line_color=None)
stats(p1, t_mean_x, t_mean_y, t_up_x, t_up_y, t_lo_x, t_lo_y)

# ---- bottom
p2 = panel((0, 8), RANGE_TICKS, "range (m)", 40, 1060, 27, 584, 42, 16, 1, 9, 3, 8, "13.5px", 3, (0, 5.12))
p2.margin = (-17, 0, 0, 0)
band(p2, b_cy_x, b_cy_lo, b_cy_hi, 23.8)
band(p2, b_or_x, b_or_lo, b_or_hi, 17.3)
band(p2, b_ye_x, b_ye_lo, b_ye_hi, 18.9)
band(p2, b_gr_x, b_gr_lo, b_gr_hi, 20.8)
band(p2, b_c2_x, b_c2_lo, b_c2_hi, 23.4)
band(p2, b_rd_x, b_rd_lo, b_rd_hi, 16.6)
band(p2, b_rr_x, b_rr_lo, b_rr_hi, 15.6)
band(p2, b_bl_x, b_bl_lo, b_bl_hi, 27.4)
band(p2, b_b2_x, b_b2_lo, b_b2_hi, 25.8)
band(p2, b_dk_x, b_dk_lo, b_dk_hi, 28.2)
pts(p2, b_p22_x, b_p22_y, 22.6)
pts(p2, b_p18_x, b_p18_y, 17.8)
pts(p2, b_x17_x, b_x17_y, 17.2)
pts(p2, b_x21_x, b_x21_y, 21.0)
pts(p2, b_p16_x, b_p16_y, 15.8)
pts(p2, b_p26_x, b_p26_y, 26.8)
pts(p2, b_x28_x, b_x28_y, 28)
pts(p2, b_p19_x, b_p19_y, 19.4)
p2.varea(x=b_blk_x, y1=b_blk_lo, y2=b_blk_hi, fill_color="black")
p2.line(b_sp_x, b_sp_y, line_color="black", line_width=2)
p2.scatter(x=b_dots_x, y=b_dots_y, size=2, color="black", line_color=None)
p2.scatter(x=b_holes_x, y=b_holes_y, size=2.4, color="white", line_color=None)
stats(p2, b_mean_x, b_mean_y, b_up_x, b_up_y, b_lo_x, b_lo_y)

page = column(p1, p2, spacing=0)
open("out.html", "w").write(file_html(page, INLINE))
